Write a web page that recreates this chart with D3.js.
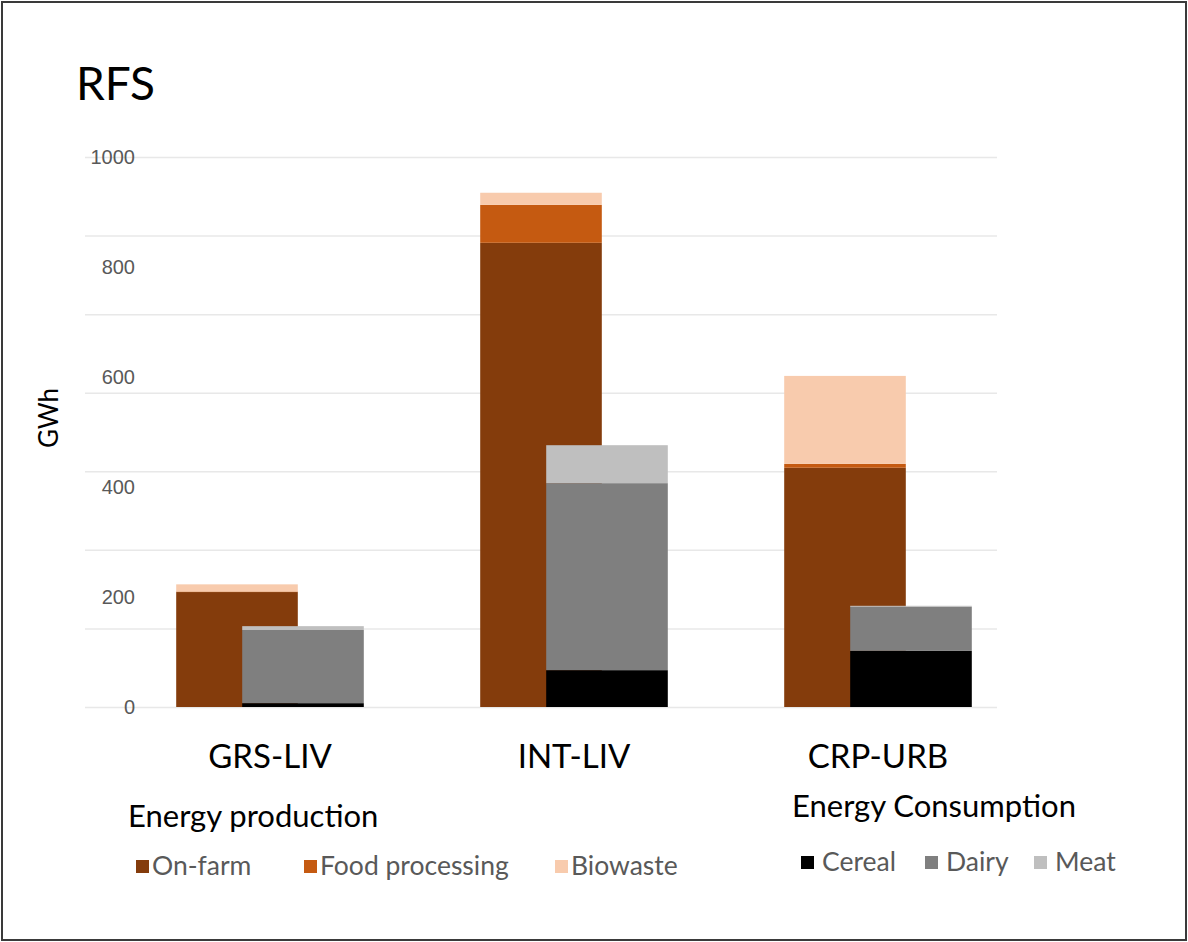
<!DOCTYPE html>
<html>
<head>
<meta charset="utf-8">
<script src="https://cdn.jsdelivr.net/npm/d3@7"></script>
<style>
  body { margin: 0; background: #fff; }
  svg { display: block; font-family: Lato, "Open Sans", sans-serif; }
  .grid line { stroke: #e8e8e8; stroke-width: 1.5; }
  .grid path, .yaxis path { display: none; }
  .yaxis text { fill: #595959; font-size: 20px; }
  .legend text { fill: #595959; font-size: 26.5px; }
</style>
</head>
<body>
<svg id="chart"></svg>
<script>
// chart size
var WIDTH = 1188;
var HEIGHT = 942;

// data (GWh)
var categories = ["GRS-LIV", "INT-LIV", "CRP-URB"];

var prodKeys = ["On-farm", "Food processing", "Biowaste"];
var onFarm = [209, 844, 435];
var foodProcessing = [1, 69, 7];
var biowaste = [13, 22, 160];

var consKeys = ["Cereal", "Dairy", "Meat"];
var cereal = [7, 67, 102];
var dairy = [133, 340, 80];
var meat = [7, 69, 2];

var yTicks = [0, 200, 400, 600, 800, 1000];
var GRID_LINES = 7;

var prodColors = ["#843c0c", "#c55a11", "#f8cbad"];
var consColors = ["#000000", "#7f7f7f", "#bfbfbf"];

var svg = d3.select("#chart")
    .attr("width", WIDTH)
    .attr("height", HEIGHT);

// frame around the picture
svg.append("rect")
    .attr("x", 2)
    .attr("y", 2)
    .attr("width", WIDTH - 4)
    .attr("height", HEIGHT - 4)
    .attr("fill", "none")
    .attr("stroke", "#3a3a3a")
    .attr("stroke-width", 2);

var LEFT = 85, RIGHT = 997, TOP = 157, BOTTOM = 707;
var SHIFT = 66; // consumption bar sits to the right of the production bar

var x = d3.scaleBand()
    .domain(categories)
    .range([LEFT, RIGHT])
    .paddingInner(0.6)
    .paddingOuter(0.3);

var y = d3.scaleLinear()
    .domain([0, 1000])
    .range([BOTTOM, TOP]);

// grid lines
svg.append("g")
    .attr("class", "grid")
    .attr("transform", "translate(" + LEFT + ",0)")
    .call(d3.axisLeft(y)
        .tickValues(d3.range(GRID_LINES + 1).map(function(i) { return i * 1000 / GRID_LINES; }))
        .tickSize(-(RIGHT - LEFT))
        .tickFormat(""));

// tick labels
svg.append("g")
    .attr("class", "yaxis")
    .attr("transform", "translate(140,0)")
    .call(d3.axisLeft(y).tickValues(yTicks).tickFormat(d3.format("d")).tickSize(0).tickPadding(5))
    .selectAll("line").remove();

// rows for the stacks
var prodRows = categories.map(function(c, i) {
    return { cat: c, "On-farm": onFarm[i], "Food processing": foodProcessing[i], "Biowaste": biowaste[i] };
});
var consRows = categories.map(function(c, i) {
    return { cat: c, "Cereal": cereal[i], "Dairy": dairy[i], "Meat": meat[i] };
});

var prodStack = d3.stack().keys(prodKeys)(prodRows);
var consStack = d3.stack().keys(consKeys)(consRows);

function drawStack(series, colors, dx) {
    svg.append("g")
        .selectAll("g")
        .data(series)
        .enter()
        .append("g")
        .attr("fill", function(d, i) { return colors[i]; })
        .selectAll("rect")
        .data(function(d) { return d; })
        .enter()
        .append("rect")
        .attr("x", function(d) { return x(d.data.cat) + dx; })
        .attr("y", function(d) { return y(d[1]); })
        .attr("width", x.bandwidth())
        .attr("height", function(d) { return y(d[0]) - y(d[1]); });
}

drawStack(prodStack, prodColors, 0);
drawStack(consStack, consColors, SHIFT);

// category labels
svg.append("g")
    .selectAll("text")
    .data(categories)
    .enter()
    .append("text")
    .attr("x", function(d) { return x(d) + (x.bandwidth() + SHIFT) / 2; })
    .attr("y", 768)
    .attr("text-anchor", "middle")
    .attr("font-size", 33)
    .attr("fill", "#000")
    .text(function(d) { return d; });

// title
svg.append("text")
    .attr("x", 76)
    .attr("y", 100)
    .attr("font-size", 46)
    .attr("fill", "#000")
    .text("RFS");

// y axis title
svg.append("text")
    .attr("transform", "translate(58,418) rotate(-90)")
    .attr("text-anchor", "middle")
    .attr("font-size", 26)
    .attr("fill", "#000")
    .text("GWh");

// legends
function drawLegend(title, tx, ty, keys, colors, itemX, itemY, gap) {
    svg.append("text")
        .attr("x", tx)
        .attr("y", ty)
        .attr("font-size", 31)
        .attr("fill", "#000")
        .text(title);

    var g = svg.append("g").attr("class", "legend");
    keys.forEach(function(k, i) {
        g.append("rect")
            .attr("x", itemX[i])
            .attr("y", itemY - 6)
            .attr("width", 13)
            .attr("height", 13)
            .attr("fill", colors[i]);
        g.append("text")
            .attr("x", itemX[i] + gap)
            .attr("y", itemY + 9)
            .text(k);
    });
}

drawLegend("Energy production", 128, 827, prodKeys, prodColors, [136, 304, 555], 866, 16);
drawLegend("Energy Consumption", 792, 817, consKeys, consColors, [801, 925, 1034], 862, 21);
</script>
</body>
</html>
